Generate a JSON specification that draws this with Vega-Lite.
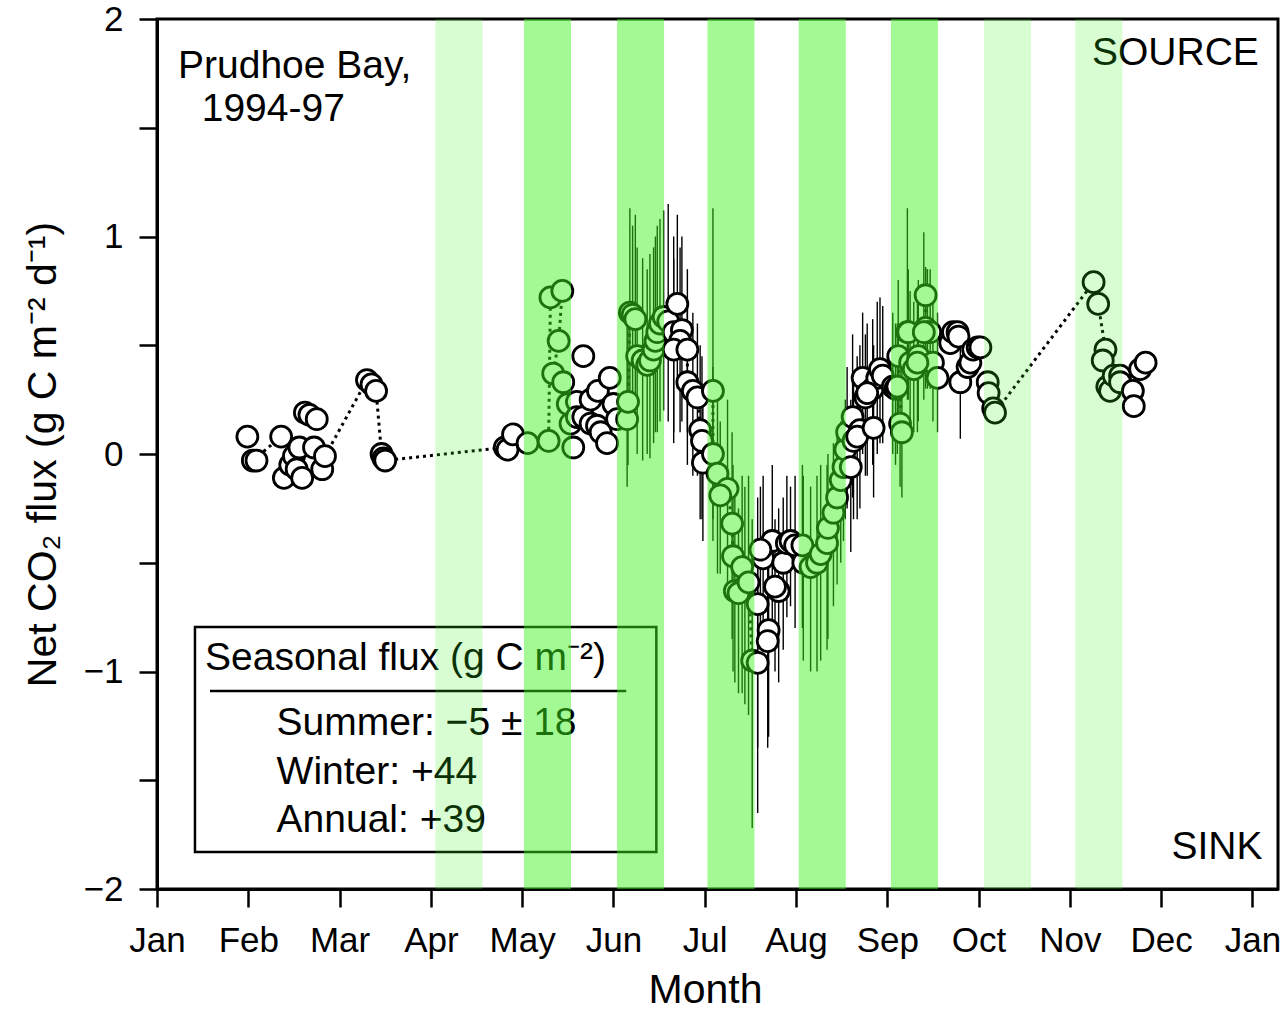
{
  "$schema": "https://vega.github.io/schema/vega-lite/v6.json",
  "autosize": {"type": "none"},
  "padding": {"left": 157, "top": 19, "right": 9, "bottom": 125},
  "width": 1121,
  "height": 870,
  "config": {
    "font": "Liberation Sans",
    "view": {"stroke": "black", "strokeWidth": 3},
    "axis": {"grid": false, "domainColor": "black", "domainWidth": 3, "tickColor": "black", "tickWidth": 2.5, "tickSize": 18, "labelFontSize": 35, "labelColor": "black", "labelFlush": false, "titleFontSize": 41, "titleFontWeight": "normal", "titleColor": "black", "labelFont": "Liberation Sans", "titleFont": "Liberation Sans"}
  },
  "datasets": {
    "pts": [
      {"m":0.99,"v":0.08},
      {"m":1.05,"v":-0.03,"s":1,"o":1},
      {"m":1.09,"v":-0.03},
      {"m":1.36,"v":0.08,"s":1,"o":2},
      {"m":1.39,"v":-0.11},
      {"m":1.46,"v":-0.05},
      {"m":1.50,"v":-0.01},
      {"m":1.53,"v":-0.07},
      {"m":1.56,"v":0.03},
      {"m":1.59,"v":-0.11},
      {"m":1.62,"v":0.19},
      {"m":1.67,"v":0.18},
      {"m":1.72,"v":0.03},
      {"m":1.75,"v":0.16},
      {"m":1.81,"v":-0.07},
      {"m":1.84,"v":-0.01,"s":2,"o":1},
      {"m":2.30,"v":0.34,"s":2,"o":2},
      {"m":2.35,"v":0.32,"s":2,"o":3},
      {"m":2.40,"v":0.29,"s":2,"o":4},
      {"m":2.46,"v":0.0,"s":2,"o":5},
      {"m":2.48,"v":-0.02},
      {"m":2.50,"v":-0.03,"s":2,"o":6},
      {"m":3.81,"v":0.03,"s":2,"o":7},
      {"m":3.84,"v":0.02},
      {"m":3.90,"v":0.09,"s":2,"o":8},
      {"m":4.06,"v":0.05,"s":2,"o":9},
      {"m":4.29,"v":0.06,"s":2,"o":10},
      {"m":4.31,"v":0.72,"s":2,"o":11},
      {"m":4.44,"v":0.75,"s":2,"o":12},
      {"m":4.40,"v":0.52,"s":2,"o":13},
      {"m":4.34,"v":0.37,"s":2,"o":14},
      {"m":4.45,"v":0.33,"s":2,"o":15},
      {"m":4.50,"v":0.23},
      {"m":4.56,"v":0.03},
      {"m":4.53,"v":0.14},
      {"m":4.60,"v":0.24},
      {"m":4.67,"v":0.45},
      {"m":4.60,"v":0.17},
      {"m":4.67,"v":0.17},
      {"m":4.75,"v":0.14},
      {"m":4.82,"v":0.13},
      {"m":4.86,"v":0.10},
      {"m":4.93,"v":0.05},
      {"m":4.75,"v":0.25},
      {"m":4.83,"v":0.29},
      {"m":4.96,"v":0.35},
      {"m":5.00,"v":0.23},
      {"m":5.04,"v":0.16},
      {"m":5.15,"v":0.16,"lo":-0.15,"hi":0.62},
      {"m":5.16,"v":0.24,"lo":-0.05,"hi":0.7,"s":3,"o":2},
      {"m":5.18,"v":0.65,"lo":0.2,"hi":1.13,"s":3,"o":1},
      {"m":5.21,"v":0.64,"lo":0.25,"hi":1.05},
      {"m":5.24,"v":0.62,"lo":0.2,"hi":1.1},
      {"m":5.26,"v":0.45,"lo":0.0,"hi":0.95},
      {"m":5.32,"v":0.43,"lo":-0.03,"hi":0.9},
      {"m":5.37,"v":0.41,"lo":0.0,"hi":0.85},
      {"m":5.40,"v":0.43,"lo":-0.02,"hi":0.92},
      {"m":5.44,"v":0.48,"lo":0.05,"hi":0.95},
      {"m":5.46,"v":0.52,"lo":0.1,"hi":1.0},
      {"m":5.48,"v":0.56,"lo":0.1,"hi":1.05},
      {"m":5.51,"v":0.60,"lo":0.15,"hi":1.08},
      {"m":5.55,"v":0.63,"lo":0.2,"hi":1.12},
      {"m":5.60,"v":0.61,"lo":0.15,"hi":1.15},
      {"m":5.66,"v":0.56,"lo":0.1,"hi":1.0},
      {"m":5.70,"v":0.69,"lo":0.3,"hi":1.1},
      {"m":5.75,"v":0.57,"lo":0.15,"hi":1.0},
      {"m":5.73,"v":0.52,"lo":0.1,"hi":0.95},
      {"m":5.66,"v":0.48,"lo":0.05,"hi":0.9},
      {"m":5.81,"v":0.48,"lo":0.1,"hi":0.85,"s":4,"o":1},
      {"m":5.81,"v":0.33,"lo":-0.05,"hi":0.7,"s":4,"o":2},
      {"m":5.87,"v":0.29,"lo":-0.1,"hi":0.65,"s":4,"o":3},
      {"m":5.92,"v":0.26,"lo":-0.1,"hi":0.6,"s":4,"o":4},
      {"m":5.95,"v":0.11,"lo":-0.3,"hi":0.5,"s":4,"o":5},
      {"m":5.97,"v":0.06,"lo":-0.3,"hi":0.45,"s":4,"o":6},
      {"m":5.98,"v":-0.04,"lo":-0.4,"hi":0.3,"s":4,"o":7},
      {"m":6.09,"v":0.29,"lo":-0.3,"hi":1.13,"s":5,"o":1},
      {"m":6.09,"v":0.0,"lo":-0.4,"hi":0.4,"s":5,"o":2},
      {"m":6.14,"v":-0.09,"lo":-0.55,"hi":0.3,"s":5,"o":3},
      {"m":6.25,"v":-0.16,"lo":-0.6,"hi":0.25,"s":5,"o":4},
      {"m":6.17,"v":-0.19,"lo":-0.55,"hi":0.15},
      {"m":6.30,"v":-0.32,"lo":-0.85,"hi":0.1,"s":5,"o":5},
      {"m":6.31,"v":-0.47,"lo":-1.0,"hi":-0.05,"s":5,"o":6},
      {"m":6.41,"v":-0.52,"lo":-1.1,"hi":-0.1,"s":5,"o":7},
      {"m":6.33,"v":-0.63,"lo":-1.05,"hi":-0.2},
      {"m":6.44,"v":-0.61,"lo":-1.15,"hi":-0.15},
      {"m":6.37,"v":-0.64,"lo":-1.1,"hi":-0.25},
      {"m":6.48,"v":-0.59,"lo":-1.2,"hi":-0.1,"s":5,"o":8},
      {"m":6.58,"v":-0.69,"lo":-1.35,"hi":-0.2},
      {"m":6.52,"v":-0.95,"lo":-1.72,"hi":-0.3,"s":5,"o":9},
      {"m":6.58,"v":-0.96,"lo":-1.65,"hi":-0.4},
      {"m":6.70,"v":-0.81,"lo":-1.3,"hi":-0.35},
      {"m":6.69,"v":-0.86,"lo":-1.35,"hi":-0.4},
      {"m":6.81,"v":-0.63,"lo":-1.05,"hi":-0.25},
      {"m":6.77,"v":-0.61,"lo":-1.0,"hi":-0.3},
      {"m":6.64,"v":-0.48,"lo":-0.9,"hi":-0.1},
      {"m":6.74,"v":-0.40,"lo":-0.85,"hi":-0.05},
      {"m":6.86,"v":-0.50,"lo":-0.9,"hi":-0.2},
      {"m":6.90,"v":-0.41,"lo":-0.75,"hi":-0.1},
      {"m":6.94,"v":-0.40,"lo":-0.7,"hi":-0.15},
      {"m":6.99,"v":-0.42,"lo":-0.8,"hi":-0.1},
      {"m":6.61,"v":-0.44,"lo":-0.8,"hi":-0.15},
      {"m":7.08,"v":-0.50,"lo":-0.95,"hi":-0.1},
      {"m":7.07,"v":-0.42,"lo":-0.8,"hi":-0.05},
      {"m":7.16,"v":-0.52,"lo":-1.0,"hi":-0.15},
      {"m":7.23,"v":-0.50,"lo":-1.0,"hi":-0.1},
      {"m":7.27,"v":-0.46,"lo":-0.95,"hi":-0.05},
      {"m":7.34,"v":-0.41,"lo":-0.9,"hi":-0.05},
      {"m":7.35,"v":-0.34,"lo":-0.85,"hi":0.0},
      {"m":7.41,"v":-0.27,"lo":-0.7,"hi":0.05},
      {"m":7.45,"v":-0.20,"lo":-0.6,"hi":0.1},
      {"m":7.49,"v":-0.12,"lo":-0.5,"hi":0.15},
      {"m":7.52,"v":-0.06,"lo":-0.4,"hi":0.2},
      {"m":7.54,"v":0.02,"lo":-0.3,"hi":0.25},
      {"m":7.56,"v":0.10,"lo":-0.25,"hi":0.4},
      {"m":7.60,"v":-0.06,"lo":-0.45,"hi":0.25},
      {"m":7.63,"v":0.06,"lo":-0.3,"hi":0.35},
      {"m":7.62,"v":0.17,"lo":-0.2,"hi":0.55},
      {"m":7.70,"v":0.11,"lo":-0.25,"hi":0.5},
      {"m":7.67,"v":0.08,"lo":-0.3,"hi":0.45},
      {"m":7.73,"v":0.35,"lo":0.0,"hi":0.65},
      {"m":7.76,"v":0.26,"lo":-0.1,"hi":0.55},
      {"m":7.84,"v":0.30,"lo":-0.05,"hi":0.62},
      {"m":7.85,"v":0.12,"lo":-0.2,"hi":0.5},
      {"m":7.89,"v":0.35,"lo":0.0,"hi":0.7},
      {"m":7.92,"v":0.39,"lo":0.05,"hi":0.72},
      {"m":7.78,"v":0.28,"lo":-0.1,"hi":0.6},
      {"m":7.95,"v":0.36,"lo":0.05,"hi":0.68},
      {"m":8.06,"v":0.31,"lo":0.0,"hi":0.65},
      {"m":8.09,"v":0.30,"lo":-0.05,"hi":0.6},
      {"m":8.11,"v":0.31,"lo":0.0,"hi":0.6},
      {"m":8.12,"v":0.45,"lo":0.1,"hi":0.8,"s":6,"o":1},
      {"m":8.14,"v":0.14,"lo":-0.15,"hi":0.45},
      {"m":8.16,"v":0.10,"lo":-0.2,"hi":0.4,"s":6,"o":2},
      {"m":8.22,"v":0.56,"lo":0.25,"hi":1.13},
      {"m":8.25,"v":0.42,"lo":0.1,"hi":0.75},
      {"m":8.29,"v":0.39,"lo":0.1,"hi":0.7},
      {"m":8.34,"v":0.45,"lo":0.15,"hi":0.8},
      {"m":8.42,"v":0.73,"lo":0.45,"hi":0.86,"s":7,"o":1},
      {"m":8.42,"v":0.58,"lo":0.3,"hi":0.85,"s":7,"o":2},
      {"m":8.44,"v":0.56,"lo":0.3,"hi":0.85},
      {"m":8.50,"v":0.42,"lo":0.15,"hi":0.7},
      {"m":8.55,"v":0.35,"lo":0.1,"hi":0.65},
      {"m":8.47,"v":0.56,"lo":0.3,"hi":0.85},
      {"m":8.23,"v":0.56,"lo":0.25,"hi":0.85},
      {"m":8.40,"v":0.56,"lo":0.25,"hi":1.02},
      {"m":8.33,"v":0.42,"lo":0.1,"hi":0.75},
      {"m":8.69,"v":0.51},
      {"m":8.72,"v":0.56},
      {"m":8.77,"v":0.56},
      {"m":8.78,"v":0.54},
      {"m":8.80,"v":0.33,"lo":0.07,"hi":0.5},
      {"m":8.88,"v":0.40},
      {"m":8.91,"v":0.42},
      {"m":8.94,"v":0.48},
      {"m":8.99,"v":0.49},
      {"m":9.02,"v":0.49},
      {"m":9.10,"v":0.33},
      {"m":9.11,"v":0.28},
      {"m":9.16,"v":0.21,"s":8,"o":1},
      {"m":9.18,"v":0.19,"s":8,"o":2},
      {"m":10.26,"v":0.79,"s":8,"o":3},
      {"m":10.31,"v":0.69,"s":8,"o":4},
      {"m":10.39,"v":0.48,"s":8,"o":5},
      {"m":10.36,"v":0.43,"s":8,"o":6},
      {"m":10.41,"v":0.31},
      {"m":10.44,"v":0.29},
      {"m":10.48,"v":0.36},
      {"m":10.55,"v":0.36},
      {"m":10.55,"v":0.33},
      {"m":10.69,"v":0.29},
      {"m":10.70,"v":0.22},
      {"m":10.77,"v":0.39},
      {"m":10.83,"v":0.42}
    ],
    "bands": [
      {"start":3.05,"end":3.565,"kind":"light"},
      {"start":4.02,"end":4.535,"kind":"dark"},
      {"start":5.04,"end":5.555,"kind":"dark"},
      {"start":6.03,"end":6.545,"kind":"dark"},
      {"start":7.03,"end":7.545,"kind":"dark"},
      {"start":8.04,"end":8.555,"kind":"dark"},
      {"start":9.06,"end":9.575,"kind":"light"},
      {"start":10.06,"end":10.575,"kind":"light"}
    ],
    "notesLeft": [
      {"label":"Prudhoe Bay,","m":0.23,"v":1.73},
      {"label":"1994-97","m":0.49,"v":1.53}
    ],
    "notesRight": [
      {"label":"SOURCE","m":12.07,"v":1.79},
      {"label":"SINK","m":12.11,"v":-1.86}
    ],
    "legendText": [
      {"label":"Seasonal flux (g C m⁻²)","m":0.526,"v":-0.993},
      {"label":"Summer: −5 ± 18","m":1.31,"v":-1.292},
      {"label":"Winter: +44","m":1.31,"v":-1.517},
      {"label":"Annual: +39","m":1.31,"v":-1.738}
    ],
    "legendBox": [{"m1":0.416,"m2":5.47,"v1":-0.795,"v2":-1.83}],
    "legendRule": [{"m1":0.58,"m2":5.14,"v":-1.09}]
  },
  "layer": [
    {
      "mark": {"type": "rule", "stroke": "black", "strokeWidth": 2.5},
      "encoding": {
        "y": {"datum": 0, "type": "quantitative", "scale": {"domain": [-2, 2]},
          "axis": {"values": [-2,-1.5,-1,-0.5,0,0.5,1,1.5,2], "labelExpr": "datum.value % 1 == 0 ? format(datum.value, 'd') : ''", "title": "Net CO₂ flux (g C m⁻² d⁻¹)", "titlePadding": 19, "labelPadding": 16}}
      }
    },
    {
      "data": {"name": "pts"},
      "transform": [{"filter": "datum.lo != null"}],
      "mark": {"type": "rule", "stroke": "black", "strokeWidth": 1.4},
      "encoding": {
        "x": {"field": "m", "type": "quantitative"},
        "y": {"field": "lo", "type": "quantitative"},
        "y2": {"field": "hi"}
      }
    },
    {
      "data": {"name": "pts"},
      "transform": [{"filter": "datum.s != null"}],
      "mark": {"type": "line", "stroke": "black", "strokeWidth": 3, "strokeDash": [3, 4]},
      "encoding": {
        "x": {"field": "m", "type": "quantitative"},
        "y": {"field": "v", "type": "quantitative"},
        "detail": {"field": "s"},
        "order": {"field": "o"}
      }
    },
    {
      "data": {"name": "pts"},
      "mark": {"type": "point", "shape": "circle", "filled": false, "fill": "white", "fillOpacity": 1, "stroke": "black", "strokeWidth": 2.8, "size": 440, "opacity": 1},
      "encoding": {
        "x": {"field": "m", "type": "quantitative", "scale": {"domain": [0, 12.28], "nice": false, "zero": false},
          "axis": {"values": [0,1,2,3,4,5,6,7,8,9,10,11,12], "labelExpr": "['Jan','Feb','Mar','Apr','May','Jun','Jul','Aug','Sep','Oct','Nov','Dec','Jan'][datum.value]", "title": "Month", "titleX": 548, "titlePadding": 12, "labelPadding": 16}},
        "y": {"field": "v", "type": "quantitative"}
      }
    },
    {
      "data": {"name": "notesLeft"},
      "mark": {"type": "text", "align": "left", "baseline": "alphabetic", "fontSize": 39, "font": "Liberation Sans", "color": "black"},
      "encoding": {
        "x": {"field": "m", "type": "quantitative"},
        "y": {"field": "v", "type": "quantitative"},
        "text": {"field": "label"}
      }
    },
    {
      "data": {"name": "notesRight"},
      "mark": {"type": "text", "align": "right", "baseline": "alphabetic", "fontSize": 39, "font": "Liberation Sans", "color": "black"},
      "encoding": {
        "x": {"field": "m", "type": "quantitative"},
        "y": {"field": "v", "type": "quantitative"},
        "text": {"field": "label"}
      }
    },
    {
      "data": {"name": "legendText"},
      "mark": {"type": "text", "align": "left", "baseline": "alphabetic", "fontSize": 39, "font": "Liberation Sans", "color": "black"},
      "encoding": {
        "x": {"field": "m", "type": "quantitative"},
        "y": {"field": "v", "type": "quantitative"},
        "text": {"field": "label"}
      }
    },
    {
      "data": {"name": "legendBox"},
      "mark": {"type": "rect", "fill": null, "fillOpacity": 0, "stroke": "black", "strokeWidth": 2.5},
      "encoding": {
        "x": {"field": "m1", "type": "quantitative"},
        "x2": {"field": "m2"},
        "y": {"field": "v1", "type": "quantitative"},
        "y2": {"field": "v2"}
      }
    },
    {
      "data": {"name": "legendRule"},
      "mark": {"type": "rule", "stroke": "black", "strokeWidth": 2.5},
      "encoding": {
        "x": {"field": "m1", "type": "quantitative"},
        "x2": {"field": "m2"},
        "y": {"field": "v", "type": "quantitative"}
      }
    },
    {
      "data": {"name": "bands"},
      "mark": {"type": "rect", "color": "#3cf51e"},
      "encoding": {
        "x": {"field": "start", "type": "quantitative"},
        "x2": {"field": "end"},
        "opacity": {"field": "kind", "type": "nominal", "scale": {"domain": ["dark", "light"], "range": [0.47, 0.2]}, "legend": null}
      }
    }
  ]
}
